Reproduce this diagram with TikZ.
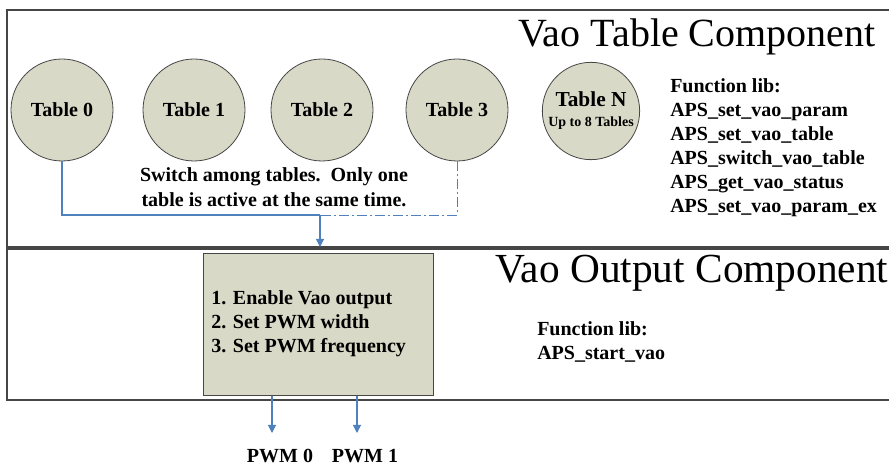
\documentclass[tikz,border=0pt]{standalone}
\usepackage{fontspec}
\setmainfont{Liberation Serif}
\usetikzlibrary{arrows.meta}
\definecolor{boxfill}{RGB}{216,217,198}
\definecolor{edgegray}{RGB}{70,70,70}
\definecolor{flowblue}{RGB}{79,129,189}
\tikzset{
  panel/.style={draw=edgegray, line width=1.1pt},
  tablenode/.style={circle, draw=edgegray, line width=0.6pt, fill=boxfill, minimum size=76.5pt, inner sep=0pt, font=\bfseries\fontsize{15}{17}\selectfont, align=center},
  outbox/.style={draw=edgegray, line width=0.9pt, fill=boxfill, minimum width=173pt, minimum height=107pt, inner sep=0pt},
  flow/.style={draw=flowblue, line width=0.8pt, -{Triangle[length=6pt,width=6pt]}},
  flowplain/.style={draw=flowblue, line width=0.8pt},
  flowdash/.style={draw=flowblue, line width=0.7pt, dash pattern=on 7pt off 2.5pt on 1.5pt off 2.5pt},
  title/.style={font=\fontsize{30}{33}\selectfont, anchor=base, inner sep=0pt},
  bodytext/.style={font=\bfseries\fontsize{15}{18}\selectfont, align=left, inner sep=0pt},
}
\begin{document}
\begin{tikzpicture}[x=0.75pt, y=-0.75pt]
\useasboundingbox (0,0) rectangle (889,466);
% panels
\draw[panel] (895,10) -- (7,10) -- (7,247) -- (895,247);
\draw[panel] (895,249) -- (7,249) -- (7,400) -- (895,400);
% titles
\node[title] (ttl1) at (697,47) {Vao Table Component};
\node[title, font=\fontsize{31}{34}\selectfont] (ttl2) at (692,283) {Vao Output Component};
% tables
\node[tablenode] (t0) at (62,110) {Table 0};
\node[tablenode] (t1) at (194,110) {Table 1};
\node[tablenode] (t2) at (322,110) {Table 2};
\node[tablenode] (t3) at (457,110) {Table 3};
\node[tablenode, minimum size=73pt] (tn) at (591,111) {\fontsize{16}{17}\selectfont Table N\\[-2pt]\fontsize{10.5}{12}\selectfont Up to 8 Tables};
% function lib (upper)
\node[bodytext, anchor=north west] (lib1) at (670,78) {Function lib:\\APS\_set\_vao\_param\\APS\_set\_vao\_table\\APS\_switch\_vao\_table\\APS\_get\_vao\_status\\APS\_set\_vao\_param\_ex};
% switch text
\node[bodytext, align=center, font=\bfseries\fontsize{15}{19}\selectfont] (sw) at (274,187) {Switch among tables.\ \ Only one\\table is active at the same time.};
% output box
\node[outbox] (box) at (318.5,324.5) {};
\node[bodytext, anchor=west] (steps) at (211,324) {1. Enable Vao output\\2. Set PWM width\\3. Set PWM frequency};
% function lib (lower)
\node[bodytext, anchor=north west] (lib2) at (537,321) {Function lib:\\APS\_start\_vao};
% connectors
\coordinate (merge) at (320,215);
\coordinate (inlet) at (320,247);
\draw[flowplain] (t0.south) |- (merge);
\draw[flowdash] (t3.south) |- (merge);
\draw[flow] (merge) -- (inlet);
% outputs
\node[bodytext, anchor=base] (pwm0) at (280,462) {PWM 0};
\node[bodytext, anchor=base] (pwm1) at (365,462) {PWM 1};
\coordinate (o0) at (272,433);
\coordinate (o1) at (357,433);
\draw[flow] (box.south -| o0) -- (o0);
\draw[flow] (box.south -| o1) -- (o1);
\end{tikzpicture}
\end{document}
